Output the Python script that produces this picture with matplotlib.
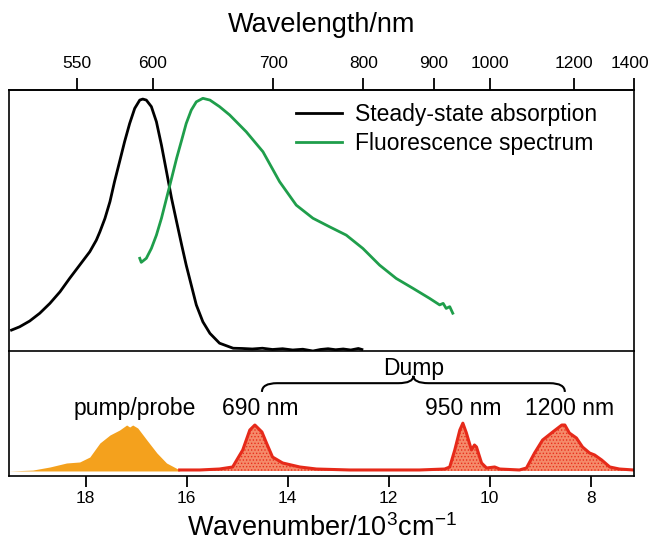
import numpy as np
import matplotlib
matplotlib.use("Agg")
import matplotlib.pyplot as plt
from matplotlib.path import Path
from matplotlib.patches import PathPatch
from matplotlib.transforms import ScaledTranslation

plt.rcParams['font.family'] = ['Liberation Sans', 'DejaVu Sans']
plt.rcParams['mathtext.fontset'] = 'custom'
plt.rcParams['mathtext.rm'] = 'Liberation Sans'
plt.rcParams['mathtext.default'] = 'regular'
plt.rcParams['hatch.linewidth'] = 0.6

# ---- data (wavenumber in 10^3 cm^-1, normalised intensity) ----
abs_wn = [19.47, 19.31, 19.11, 18.91, 18.71, 18.51, 18.32, 18.12, 17.92, 17.79,
          17.72, 17.62, 17.52, 17.43, 17.33, 17.23, 17.13, 17.03, 16.93, 16.87,
          16.80, 16.70, 16.60, 16.50, 16.40, 16.30, 16.20, 16.10, 16.01, 15.91,
          15.81, 15.68, 15.54, 15.35, 15.08,
          14.90, 14.70, 14.50, 14.30, 14.10, 13.90, 13.70, 13.50, 13.35, 13.20,
          13.05, 12.90, 12.75, 12.60, 12.53]
abs_int = [0.083, 0.096, 0.119, 0.150, 0.189, 0.235, 0.288, 0.341, 0.394, 0.440,
           0.473, 0.526, 0.593, 0.672, 0.751, 0.831, 0.903, 0.963, 0.996, 1.000,
           0.996, 0.970, 0.910, 0.817, 0.712, 0.606, 0.513, 0.421, 0.341, 0.262,
           0.183, 0.116, 0.070, 0.031, 0.011,
           0.010, 0.008, 0.011, 0.006, 0.009, 0.004, 0.007, 0.000, 0.006, 0.009,
           0.005, 0.008, 0.004, 0.010, 0.006]

flu_wn = [16.93, 16.90, 16.80, 16.70, 16.60, 16.50, 16.40, 16.30, 16.20, 16.10,
          16.01, 15.91, 15.81, 15.68, 15.54, 15.35, 15.15, 14.82, 14.49, 14.16,
          13.83, 13.50, 13.17, 12.84, 12.51, 12.18, 11.85, 11.52, 11.19, 10.99,
          10.92, 10.86, 10.79, 10.73]
flu_int = [0.368, 0.352, 0.368, 0.407, 0.460, 0.527, 0.606, 0.685, 0.765, 0.837,
           0.903, 0.956, 0.989, 1.003, 0.996, 0.970, 0.937, 0.870, 0.791, 0.672,
           0.579, 0.527, 0.493, 0.460, 0.407, 0.341, 0.288, 0.249, 0.209, 0.183,
           0.189, 0.169, 0.176, 0.150]

pump_wn = [19.52, 19.05, 18.71, 18.38, 18.12, 17.92, 17.72, 17.52, 17.33, 17.19,
           17.13, 17.07, 16.97, 16.79, 16.59, 16.40, 16.14]
pump_int = [0.0, 0.02, 0.087, 0.174, 0.196, 0.304, 0.609, 0.783, 0.891, 1.0,
            0.957, 1.0, 0.935, 0.674, 0.391, 0.174, 0.022]

dump_wn = [16.14, 15.74, 15.35, 15.09, 14.89, 14.75, 14.65, 14.51, 14.42, 14.30,
           14.10, 13.76, 13.43, 12.77, 11.39, 10.89, 10.79, 10.69, 10.59, 10.53,
           10.46, 10.36, 10.30, 10.26, 10.16, 10.06, 9.90, 9.80, 9.41, 9.27,
           9.11, 8.95, 8.75, 8.57, 8.51, 8.42, 8.28, 8.16, 8.02, 7.92,
           7.78, 7.62, 7.43, 7.15]
dump_int = [0.022, 0.022, 0.043, 0.087, 0.457, 0.891, 1.0, 0.848, 0.609, 0.304,
            0.174, 0.087, 0.043, 0.022, 0.022, 0.043, 0.087, 0.457, 0.891, 1.04,
            0.826, 0.457, 0.565, 0.522, 0.174, 0.065, 0.087, 0.043, 0.022, 0.065,
            0.391, 0.674, 0.848, 1.0, 1.0, 0.826, 0.717, 0.522, 0.391, 0.348,
            0.239, 0.087, 0.043, 0.022]

pulse_labels = ["pump/probe", "690 nm", "950 nm", "1200 nm"]
pulse_label_wn = [17.03, 14.55, 10.53, 8.42]
dump_span = [14.51, 8.51]

wn_ticks = [18, 16, 14, 12, 10, 8]
nm_ticks = [550, 600, 700, 800, 900, 1000, 1200, 1400]
wn_lim = (19.52, 7.14)

# ---- figure ----
fig = plt.figure(figsize=(6.51, 5.48), dpi=100)
left, width = 9 / 651, 625 / 651
ax1 = fig.add_axes([left, 1 - 351 / 548, width, (351 - 90) / 548])
ax2 = fig.add_axes([left, 1 - 476 / 548, width, (476 - 351) / 548], sharex=ax1)

lw_spine = 1.2
for ax in (ax1, ax2):
    for s in ax.spines.values():
        s.set_linewidth(lw_spine)
ax1.spines['bottom'].set_visible(False)

# upper panel: spectra
ax1.plot(abs_wn, abs_int, color='black', lw=2.0, label='Steady-state absorption',
         solid_joinstyle='round')
ax1.plot(flu_wn, flu_int, color='#1f9e4b', lw=2.0, label='Fluorescence spectrum',
         solid_joinstyle='round')
ax1.set_xlim(*wn_lim)
ax1.set_ylim(0, 1.036)
ax1.tick_params(bottom=False, labelbottom=False, left=False, labelleft=False)
leg = ax1.legend(loc='upper right', bbox_to_anchor=(0.955, 0.985), frameon=False,
                 fontsize=16.5, handlelength=2.0, handletextpad=0.55,
                 labelspacing=0.25, borderaxespad=0)


def wn_to_nm(x):
    x = np.asarray(x, dtype=float)
    with np.errstate(divide='ignore', invalid='ignore'):
        return 1e4 / x


sec = ax1.secondary_xaxis('top', functions=(wn_to_nm, wn_to_nm))
sec.set_xticks(nm_ticks)
sec.set_xticklabels([str(t) for t in nm_ticks])
sec.tick_params(direction='out', length=9, width=1.3, labelsize=12.5, pad=5)
sec.spines['top'].set_linewidth(lw_spine)
sec.set_xlabel('Wavelength/nm', fontsize=19.5, labelpad=17)
# keep the last wavelength label inside the figure edge
last_lab = sec.get_xticklabels()[-1]
last_lab.set_transform(last_lab.get_transform()
                       + ScaledTranslation(-4 / 100, 0, fig.dpi_scale_trans))

# lower panel: pulse spectra
ax2.fill_between(pump_wn, 0, pump_int, color='#f4a11d', lw=0)
ax2.fill_between(dump_wn, 0, dump_int, facecolor='#f58a6a', edgecolor='#e8301c',
                 hatch='.....', lw=0)
ax2.plot(dump_wn, dump_int, color='#e62a1a', lw=2.2, solid_joinstyle='round')
ax2.set_ylim(-0.109, 2.61)
ax2.set_xticks(wn_ticks)
ax2.set_xticklabels([str(t) for t in wn_ticks])
ax2.tick_params(axis='x', direction='out', length=8, width=1.3, labelsize=12.5, pad=3)
ax2.tick_params(axis='y', left=False, labelleft=False)
ax2.set_xlabel(r'Wavenumber/10$^{3}$cm$^{-1}$', fontsize=19.5, labelpad=6)

for lab, x in zip(pulse_labels, pulse_label_wn):
    ax2.text(x, 1.37, lab, ha='center', va='center', fontsize=16.5)

# curly brace over the dump pulses
x0, x1 = dump_span
xc = 0.5 * (x0 + x1)
yb, ye, yt = 1.91, 1.72, 2.07
dx = 0.3
verts = [(x0, ye), (x0, yb), (x0 - dx, yb),
         (xc + dx, yb), (xc, yb), (xc, yt),
         (xc, yb), (xc - dx, yb),
         (x1 + dx, yb), (x1, yb), (x1, ye)]
codes = [Path.MOVETO, Path.CURVE3, Path.CURVE3,
         Path.LINETO, Path.CURVE3, Path.CURVE3,
         Path.CURVE3, Path.CURVE3,
         Path.LINETO, Path.CURVE3, Path.CURVE3]
ax2.add_patch(PathPatch(Path(verts, codes), fill=False, lw=1.5, color='black'))
ax2.text(xc, 2.24, 'Dump', ha='center', va='center', fontsize=16.5)

fig.savefig('out.png', dpi=100)
